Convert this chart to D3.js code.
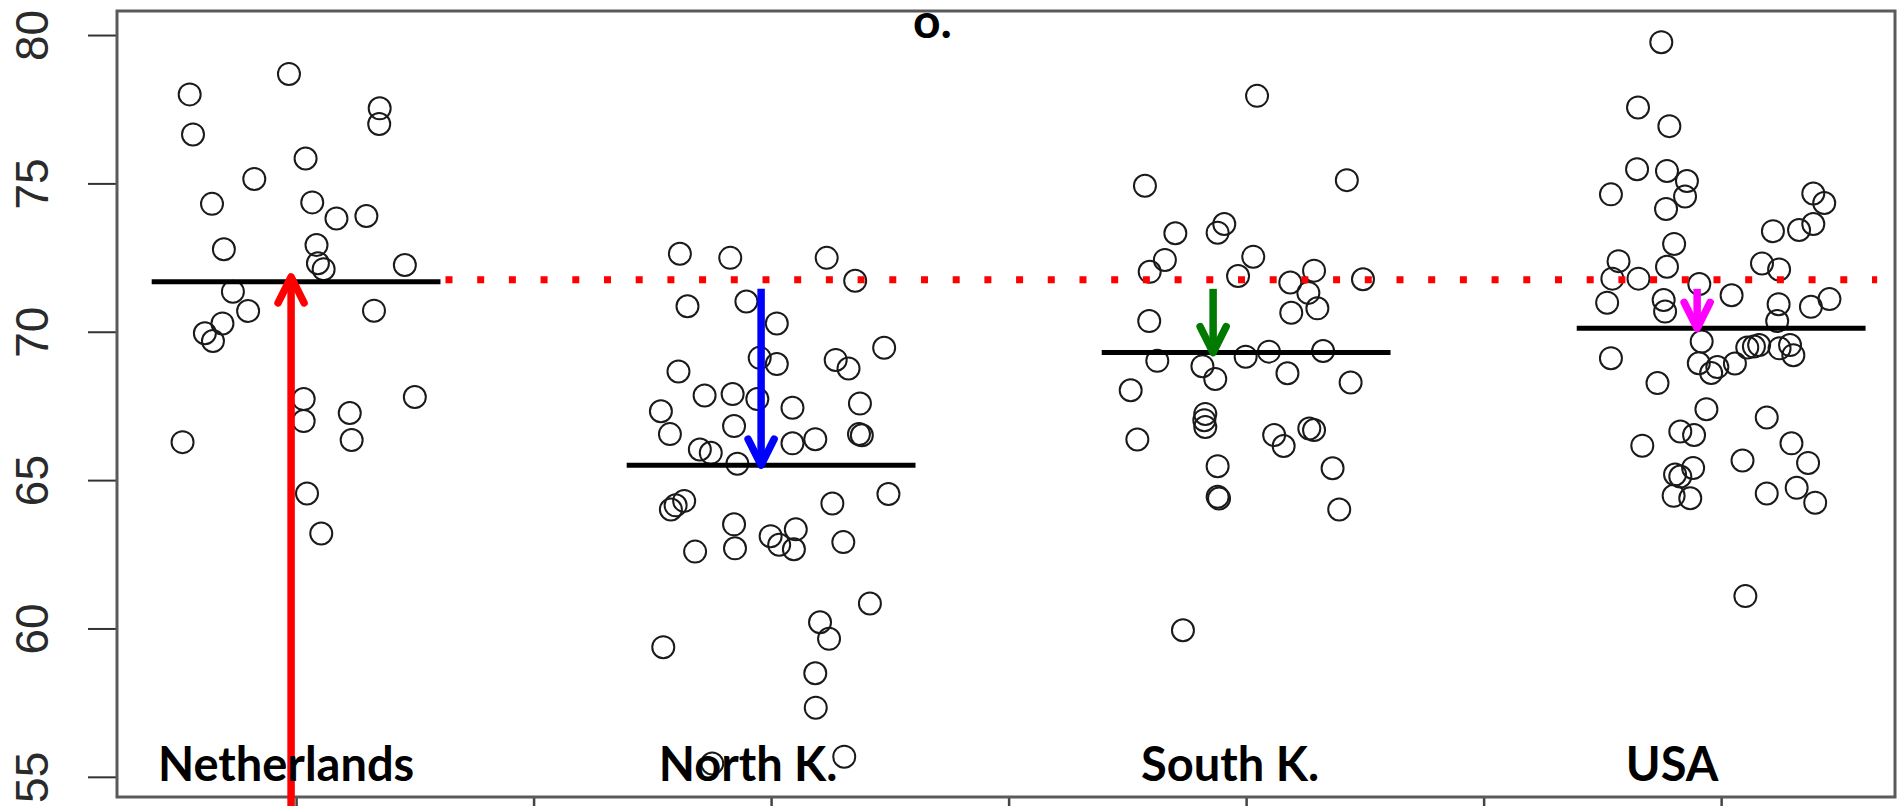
<!DOCTYPE html>
<html>
<head>
<meta charset="utf-8">
<script src="https://cdn.jsdelivr.net/npm/d3@7"></script>
<style>
  html, body { margin: 0; padding: 0; background: #fff; }
  svg { display: block; }
</style>
</head>
<body>
<svg id="chart" width="1902" height="806"></svg>
<script>
// Life expectancy by country, one strip of jittered points per group
const countries = ["Netherlands", "North K.", "South K.", "USA"];

const nlValues = [78.00, 76.65, 78.69, 77.53, 77.00, 75.84, 75.15, 74.31, 74.36, 73.82,
  73.90, 72.78, 72.92, 72.31, 72.11, 72.25, 71.35, 70.70, 70.71, 70.28,
  69.95, 69.69, 67.73, 66.99, 67.26, 66.35, 67.80, 66.28, 64.55, 63.20];
const nlJitter = [-0.224, -0.217, -0.015, 0.176, 0.175, 0.020, -0.088, -0.177, 0.034, 0.085,
  0.148, -0.152, 0.043, 0.046, 0.058, 0.229, -0.133, -0.101, 0.164, -0.155,
  -0.192, -0.175, 0.016, 0.016, 0.113, 0.117, 0.250, -0.239, 0.023, 0.053];

const nkValues = [72.63, 72.49, 72.49, 71.72, 70.86, 71.02, 70.28, 69.46, 68.66, 69.12,
  68.91, 69.05, 68.76, 67.85, 67.90, 67.73, 67.44, 67.58, 67.32, 66.82,
  66.55, 66.55, 66.51, 66.03, 65.92, 65.55, 66.24, 66.38, 64.01, 64.15,
  64.30, 64.21, 64.53, 63.51, 63.11, 62.82, 63.34, 62.67, 62.59, 62.70,
  62.91, 60.84, 60.21, 59.65, 59.37, 58.49, 57.33, 55.68, 55.45];
const nkJitter = [-0.192, -0.086, 0.117, 0.177, -0.176, -0.052, 0.012, 0.238, -0.195, -0.024,
  0.012, 0.136, 0.163, -0.140, -0.081, -0.029, 0.045, 0.187, -0.232, -0.078,
  -0.213, 0.185, 0.191, -0.150, -0.127, -0.071, 0.045, 0.093, -0.211, -0.201,
  -0.183, 0.129, 0.247, -0.078, -0.001, 0.017, 0.052, 0.048, -0.160, -0.076,
  0.152, 0.208, 0.103, 0.122, -0.227, 0.093, 0.094, 0.154, -0.124];

const skValues = [77.95, 74.92, 75.11, 73.32, 73.34, 73.63, 72.42, 72.02, 72.53, 71.88,
  71.66, 72.06, 71.31, 70.64, 70.79, 71.77, 70.36, 69.02, 68.84, 68.41,
  69.16, 69.33, 68.60, 69.35, 68.29, 68.03, 67.23, 67.02, 66.79, 66.37,
  66.52, 66.15, 66.74, 66.69, 65.47, 65.40, 64.44, 64.38, 64.01, 59.94];
const skJitter = [0.023, -0.213, 0.212, -0.149, -0.060, -0.046, -0.171, -0.203, 0.015, -0.017,
  0.093, 0.143, 0.131, 0.095, 0.150, 0.246, -0.204, -0.187, -0.092, -0.065,
  -0.001, 0.048, 0.087, 0.162, 0.220, -0.243, -0.086, -0.088, -0.086, -0.229,
  0.059, 0.079, 0.133, 0.143, -0.060, 0.182, -0.060, -0.057, 0.196, -0.133];

const usValues = [79.76, 77.56, 76.93, 75.48, 75.42, 75.08, 74.56, 74.63, 74.14, 74.66,
  74.34, 73.63, 73.43, 73.39, 72.96, 72.38, 72.19, 72.30, 72.10, 71.79,
  71.79, 71.61, 70.98, 71.07, 70.68, 71.23, 70.93, 70.36, 70.84, 71.10,
  69.67, 69.11, 68.94, 68.61, 68.81, 68.93, 69.47, 69.50, 69.55, 69.44,
  69.55, 69.21, 68.27, 67.39, 67.11, 66.64, 66.52, 66.16, 66.24, 65.58,
  65.66, 65.41, 65.19, 65.12, 64.47, 64.39, 64.55, 64.74, 64.24, 61.09];
const usJitter = [-0.126, -0.175, -0.109, -0.177, -0.114, -0.072, -0.076, -0.232, -0.116, 0.194,
  0.217, 0.194, 0.164, 0.109, -0.099, -0.216, -0.114, 0.086, 0.122, -0.229,
  -0.174, -0.046, -0.240, -0.121, -0.118, 0.022, 0.121, 0.118, 0.189, 0.228,
  -0.041, -0.232, -0.047, -0.021, -0.008, 0.029, 0.055, 0.069, 0.080, 0.123,
  0.145, 0.152, -0.134, -0.031, 0.096, -0.086, -0.057, -0.166, 0.148, 0.183,
  0.045, -0.059, -0.097, -0.086, -0.100, -0.065, 0.096, 0.159, 0.198, 0.051];

const yTicks = [55, 60, 65, 70, 75, 80];
const xTicks = [1, 1.5, 2, 2.5, 3, 3.5, 4];
const arrowColors = ["#ff0000", "#0000ff", "#007a00", "#ff00ff"];

// layout
const W = 1902, H = 806;
const box = { left: 117, top: 11, right: 1895, bottom: 797 };
const meanHalfWidth = 0.304;
const arrowShift = [-5, -10, -33, -24];
const labelShift = [-10, -23, -16, -49];

const groups = [
  { values: nlValues, jitter: nlJitter },
  { values: nkValues, jitter: nkJitter },
  { values: skValues, jitter: skJitter },
  { values: usValues, jitter: usJitter }
];

const x = d3.scaleLinear().domain([0.623, 4.366]).range([box.left, box.right]);
const y = d3.scaleLinear().domain([54.32, 80.81]).range([box.bottom, box.top]);

const svg = d3.select("#chart");
svg.append("rect").attr("width", W).attr("height", H).attr("fill", "#fff");

// axes
const yAxis = svg.append("g")
  .attr("transform", `translate(${box.left},0)`)
  .call(d3.axisLeft(y).tickValues(yTicks).tickSize(29).tickFormat(d3.format("d")));
yAxis.select(".domain").remove();
yAxis.selectAll(".tick line").attr("stroke", "#333").attr("stroke-width", 2);
yAxis.selectAll(".tick text")
  .attr("x", null).attr("dy", null)
  .attr("transform", "translate(-69,0) rotate(-90)")
  .attr("text-anchor", "middle")
  .attr("font-family", "'Liberation Sans', Arial, sans-serif")
  .attr("font-size", 46)
  .attr("fill", "#2a2a2a");

const xAxis = svg.append("g")
  .attr("transform", `translate(0,${box.bottom})`)
  .call(d3.axisBottom(x).tickValues(xTicks).tickSize(30).tickFormat(""));
xAxis.select(".domain").remove();
xAxis.selectAll(".tick line").attr("stroke", "#444").attr("stroke-width", 2.5);

// plot frame
svg.append("rect")
  .attr("x", box.left).attr("y", box.top)
  .attr("width", box.right - box.left).attr("height", box.bottom - box.top)
  .attr("fill", "none").attr("stroke", "#5a5a5a").attr("stroke-width", 3);

const means = groups.map(g => d3.mean(g.values));
const ref = means[0];

// points
groups.forEach((g, i) => {
  svg.append("g").selectAll("circle")
    .data(g.values.map((v, k) => ({ v, j: g.jitter[k] })))
    .join("circle")
    .attr("cx", d => x(i + 1 + d.j))
    .attr("cy", d => y(d.v))
    .attr("r", 11)
    .attr("fill", "none")
    .attr("stroke", "#1a1a1a")
    .attr("stroke-width", 2);
});

// reference level (first group's mean) carried across the other groups
svg.append("line")
  .attr("x1", x(1 + meanHalfWidth) + 5).attr("x2", x(4) + 156)
  .attr("y1", y(ref) - 2).attr("y2", y(ref) - 2)
  .attr("stroke", "#ff0000").attr("stroke-width", 7)
  .attr("stroke-dasharray", "7 24.7");

// group means
svg.append("g").selectAll("line")
  .data(means)
  .join("line")
  .attr("x1", (m, i) => x(i + 1 - meanHalfWidth))
  .attr("x2", (m, i) => x(i + 1 + meanHalfWidth))
  .attr("y1", m => y(m)).attr("y2", m => y(m))
  .attr("stroke", "#000").attr("stroke-width", 5);

// arrows: from the reference level down to each mean; the first rises from below
means.forEach((m, i) => {
  const ax = x(i + 1) + arrowShift[i];
  const tip = i === 0 ? y(m) - 5 : y(m);
  const start = i === 0 ? H + 10 : y(ref) + 7;
  const dir = i === 0 ? 1 : -1;
  const g = svg.append("g")
    .attr("stroke", arrowColors[i]).attr("fill", "none").attr("stroke-width", 7.5);
  g.append("line")
    .attr("x1", ax).attr("x2", ax)
    .attr("y1", start).attr("y2", tip + dir * 3);
  g.append("path")
    .attr("d", `M${ax - 13},${tip + dir * 26}L${ax},${tip}L${ax + 13},${tip + dir * 26}`)
    .attr("stroke-linejoin", "round").attr("stroke-linecap", "round");
});

// group names
svg.append("g").selectAll("text")
  .data(countries)
  .join("text")
  .attr("x", (c, i) => x(i + 1) + labelShift[i])
  .attr("y", 781)
  .attr("text-anchor", "middle")
  .attr("font-family", "Lato, 'Open Sans', sans-serif")
  .attr("font-weight", 700)
  .attr("font-size", 47)
  .attr("fill", "#000")
  .text(c => c);

svg.append("text")
  .attr("x", 913).attr("y", 38)
  .attr("font-family", "Lato, 'Open Sans', sans-serif")
  .attr("font-weight", 700)
  .attr("font-size", 48)
  .attr("fill", "#000")
  .text("o.");
</script>
</body>
</html>
